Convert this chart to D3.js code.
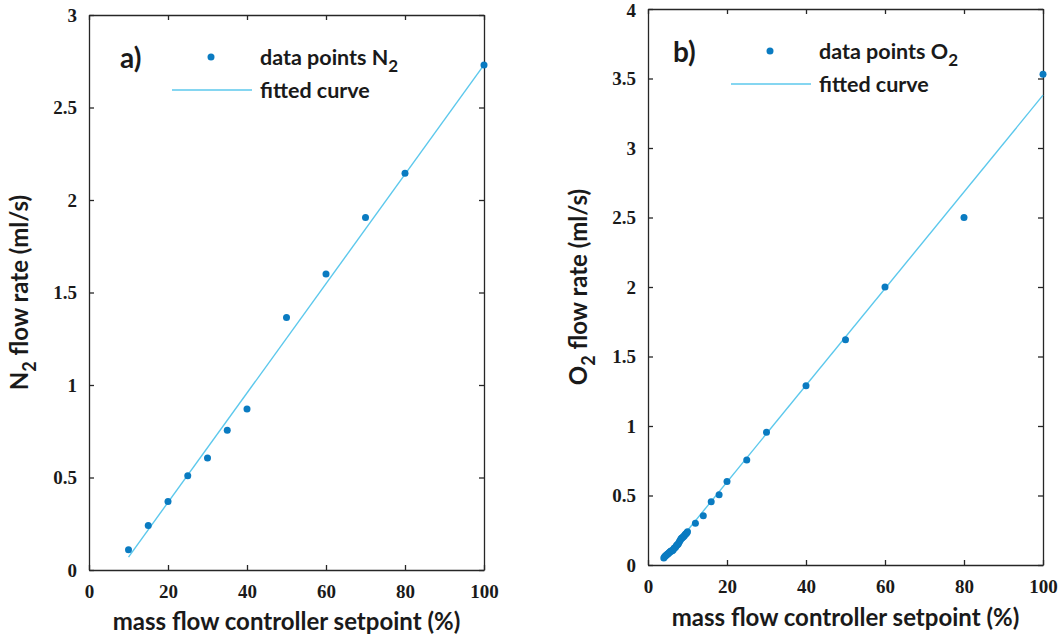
<!DOCTYPE html>
<html>
<head>
<meta charset="utf-8">
<script src="https://cdn.jsdelivr.net/npm/d3@7"></script>
<style>
  body { margin: 0; background: #fff; }
  svg text { fill: #1a1a1a; }
</style>
</head>
<body>
<svg id="chart" width="1061" height="639"></svg>
<script>
// N2 calibration: setpoint (%) vs measured flow (ml/s)
const n2Setpoint = [10, 15, 20, 25, 30, 35, 40, 50, 60, 70, 80, 100];
const n2Flow     = [0.11, 0.24, 0.37, 0.51, 0.605, 0.755, 0.87, 1.365, 1.60, 1.905, 2.145, 2.73];
const n2FitX = [10, 100];
const n2FitY = [0.07, 2.73];

// O2 calibration: fine sweep at low setpoints plus coarse points
const o2Setpoint = [4.0, 4.2, 4.4, 4.6, 4.8, 5.0, 5.2, 5.4, 5.6, 5.8, 6.0, 6.2, 6.4, 6.6, 6.8,
                    7.0, 7.2, 7.4, 7.6, 7.8, 8.0, 8.2, 8.4, 8.6, 8.8, 9.0, 9.2, 9.4, 9.6, 9.8, 10.0,
                    12, 14, 16, 18, 20, 25, 30, 40, 50, 60, 80, 100];
const o2Flow     = [0.05, 0.06, 0.065, 0.07, 0.075, 0.08, 0.085, 0.09, 0.095, 0.10, 0.10, 0.105, 0.11, 0.12, 0.125,
                    0.13, 0.14, 0.145, 0.15, 0.16, 0.17, 0.18, 0.19, 0.195, 0.20, 0.205, 0.21, 0.22, 0.225, 0.23, 0.24,
                    0.30, 0.355, 0.455, 0.505, 0.60, 0.755, 0.955, 1.29, 1.62, 2.00, 2.50, 3.53];
const o2FitX = [4, 100];
const o2FitY = [0.04, 3.38];

const xTicks = [0, 20, 40, 60, 80, 100];
const n2YTicks = [0, 0.5, 1, 1.5, 2, 2.5, 3];
const o2YTicks = [0, 0.5, 1, 1.5, 2, 2.5, 3, 3.5, 4];

const markerColor = "#0a7bc1";
const fitColor = "#5cc8ec";
const axisColor = "#262626";
const tickFont = "Liberation Serif";
const labelFont = "Lato";

const svg = d3.select("#chart");

function label(sel, size) {
  return sel.attr("font-family", labelFont).attr("font-weight", "bold")
    .attr("font-size", size).attr("fill", "#1a1a1a");
}

function panel(cfg) {
  const x = d3.scaleLinear().domain([0, 100]).range([cfg.left, cfg.right]);
  const y = d3.scaleLinear().domain([0, cfg.yMax]).range([cfg.bottom, cfg.top]);
  const g = svg.append("g");
  const tickLen = 5;

  // box axes with inward ticks on all sides
  const styleAxis = sel => {
    sel.attr("font-family", tickFont).attr("font-size", 19).attr("font-weight", "bold");
    sel.select(".domain").attr("stroke", axisColor).attr("stroke-width", 1.3);
    sel.selectAll(".tick line").attr("stroke", axisColor).attr("stroke-width", 1.3);
    sel.selectAll(".tick text").attr("fill", "#1a1a1a");
  };
  g.append("g").attr("transform", `translate(0,${cfg.bottom})`)
    .call(d3.axisBottom(x).tickValues(xTicks).tickSize(-tickLen).tickPadding(15).tickFormat(d3.format("d")).tickSizeOuter(0))
    .call(styleAxis);
  g.append("g").attr("transform", `translate(0,${cfg.top})`)
    .call(d3.axisTop(x).tickValues(xTicks).tickSize(-tickLen).tickFormat("").tickSizeOuter(0))
    .call(styleAxis);
  const yAxis = g.append("g").attr("transform", `translate(${cfg.left},0)`)
    .call(d3.axisLeft(y).tickValues(cfg.yTicks).tickSize(-tickLen).tickPadding(12).tickFormat(d3.format("")).tickSizeOuter(0))
    .call(styleAxis);
  // keep the top label inside the page
  yAxis.selectAll(".tick text").filter(d => y(d) < 12).attr("dy", "0.4em");
  g.append("g").attr("transform", `translate(${cfg.right},0)`)
    .call(d3.axisRight(y).tickValues(cfg.yTicks).tickSize(-tickLen).tickFormat("").tickSizeOuter(0))
    .call(styleAxis);

  // fitted line
  const line = d3.line().x(d => x(d[0])).y(d => y(d[1]));
  g.append("path").datum(d3.zip(cfg.fitX, cfg.fitY))
    .attr("d", line).attr("fill", "none").attr("stroke", fitColor).attr("stroke-width", 1.4);

  // data points
  g.selectAll("circle.pt").data(d3.zip(cfg.xs, cfg.ys)).join("circle")
    .attr("class", "pt").attr("cx", d => x(d[0])).attr("cy", d => y(d[1]))
    .attr("r", 3.5).attr("fill", markerColor);

  // axis titles
  label(g.append("text"), 24).attr("text-anchor", "middle")
    .attr("x", (cfg.left + cfg.right) / 2).attr("y", cfg.xLabelY)
    .text("mass flow controller setpoint (%)");
  const yl = label(g.append("text"), 24).attr("text-anchor", "middle")
    .attr("transform", `translate(${cfg.yLabelX},${(cfg.top + cfg.bottom) / 2}) rotate(-90)`);
  yl.append("tspan").text(cfg.gas);
  yl.append("tspan").attr("dy", 8).attr("font-size", 18).text("2");
  yl.append("tspan").attr("dy", -8).text(" flow rate (ml/s)");

  // panel letter and legend
  label(g.append("text"), 28).attr("x", cfg.tagX).attr("y", cfg.tagY).text(cfg.tag);
  g.append("circle").attr("cx", cfg.legX - 49).attr("cy", cfg.tagY - 11).attr("r", 3.5).attr("fill", markerColor);
  const lt = label(g.append("text"), 21.5).attr("x", cfg.legX).attr("y", cfg.tagY - 3);
  lt.append("tspan").text("data points " + cfg.gas);
  lt.append("tspan").attr("dy", 7).attr("font-size", 17).text("2");
  g.append("line").attr("x1", cfg.legX - 88).attr("x2", cfg.legX - 8)
    .attr("y1", cfg.tagY + 22).attr("y2", cfg.tagY + 22)
    .attr("stroke", fitColor).attr("stroke-width", 1.4);
  label(g.append("text"), 21.5).attr("x", cfg.legX).attr("y", cfg.tagY + 30).text("fitted curve");
}

panel({
  left: 89, right: 484, top: 15, bottom: 570, yMax: 3, yTicks: n2YTicks,
  xs: n2Setpoint, ys: n2Flow, fitX: n2FitX, fitY: n2FitY,
  xLabelY: 630, yLabelX: 28, gas: "N", tag: "a)", tagX: 120, tagY: 68, legX: 260
});
panel({
  left: 648, right: 1043, top: 9, bottom: 565, yMax: 4, yTicks: o2YTicks,
  xs: o2Setpoint, ys: o2Flow, fitX: o2FitX, fitY: o2FitY,
  xLabelY: 626, yLabelX: 587, gas: "O", tag: "b)", tagX: 673, tagY: 62, legX: 819
});
</script>
</body>
</html>
